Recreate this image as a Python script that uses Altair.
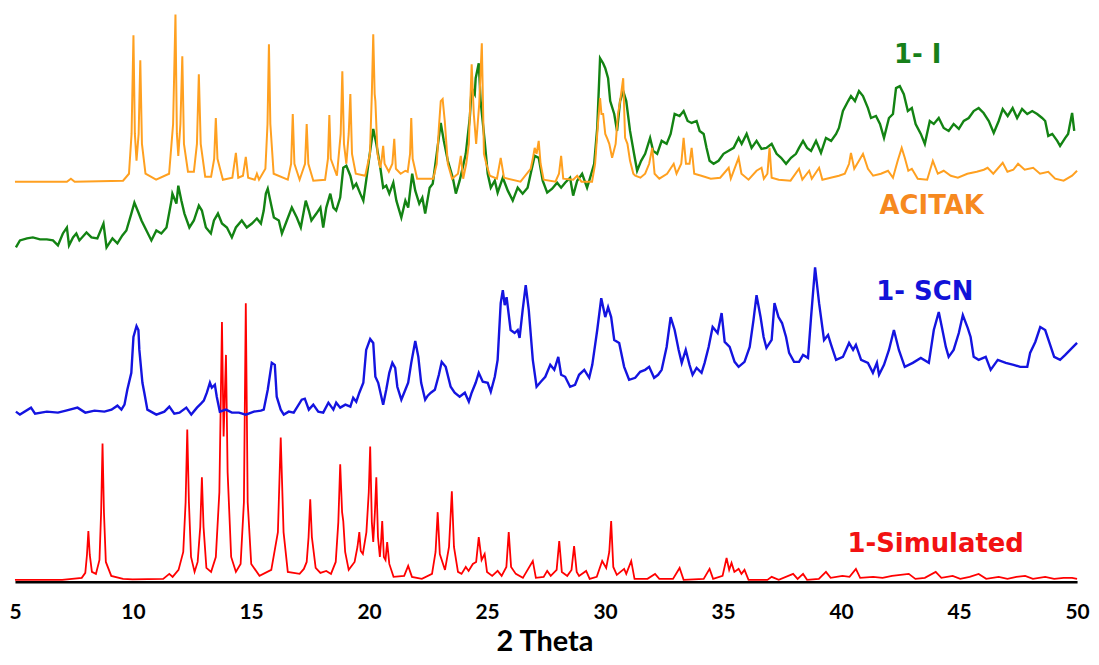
import altair as alt
import pandas as pd

# ---------------- data (2-theta, stacked intensity in a.u.) ----------------
simulated = [
    (5.00, 2), (7.00, 2), (7.83, 4), (7.98, 9), (8.05, 27), (8.11, 51), (8.17, 27), (8.26, 10),
    (8.43, 8), (8.58, 22), (8.65, 70), (8.71, 139), (8.77, 70), (8.85, 20), (9.08, 6), (9.58, 3),
    (9.98, 2.5), (11.28, 3), (11.54, 8), (11.68, 5), (11.93, 12), (12.13, 30), (12.23, 80),
    (12.30, 153), (12.37, 80), (12.46, 25), (12.61, 10), (12.74, 20), (12.85, 55), (12.92, 105),
    (12.99, 55), (13.11, 14), (13.31, 10), (13.51, 25), (13.66, 90), (13.77, 261), (13.84, 146),
    (13.94, 228), (14.01, 110), (14.16, 25), (14.36, 10), (14.56, 18), (14.70, 80), (14.78, 280),
    (14.86, 80), (15.01, 18), (15.36, 6), (15.86, 12), (16.14, 50), (16.26, 145), (16.38, 50),
    (16.56, 10), (17.06, 8), (17.24, 13), (17.36, 20), (17.44, 45), (17.51, 83), (17.58, 45),
    (17.74, 14), (17.94, 9), (18.19, 11), (18.39, 8), (18.59, 20), (18.70, 60), (18.78, 118),
    (18.86, 70), (18.91, 61), (18.99, 30), (19.14, 12), (19.39, 20), (19.51, 35), (19.59, 50),
    (19.65, 31), (19.74, 28), (19.89, 50), (19.99, 90), (20.05, 136), (20.12, 60), (20.18, 40),
    (20.25, 70), (20.31, 105), (20.38, 45), (20.46, 25), (20.51, 40), (20.56, 61), (20.63, 25),
    (20.70, 22), (20.77, 40), (20.86, 18), (21.04, 5), (21.49, 6), (21.66, 16), (21.82, 5),
    (22.24, 3), (22.67, 8), (22.82, 30), (22.91, 70), (23.00, 28), (23.22, 12), (23.39, 35),
    (23.51, 91), (23.60, 35), (23.77, 10), (23.92, 8), (24.10, 15), (24.22, 11), (24.40, 18),
    (24.54, 20), (24.65, 45), (24.77, 22), (24.90, 28), (25.00, 10), (25.22, 6), (25.45, 11),
    (25.62, 6), (25.82, 15), (25.92, 50), (26.02, 15), (26.22, 8), (26.52, 4), (26.94, 21),
    (27.07, 4), (27.40, 5), (27.55, 11), (27.70, 6), (27.95, 12), (28.06, 41), (28.17, 10),
    (28.40, 6), (28.58, 12), (28.69, 36), (28.80, 10), (28.90, 6), (29.20, 11), (29.35, 3),
    (29.65, 5), (29.88, 21), (30.05, 14), (30.18, 30), (30.26, 61), (30.35, 15), (30.50, 7),
    (30.81, 13), (30.90, 8), (31.11, 21), (31.25, 3), (31.80, 3), (32.12, 8), (32.30, 3),
    (32.88, 3), (33.16, 14), (33.33, 2), (34.18, 3), (34.43, 13), (34.58, 3), (34.98, 6),
    (35.15, 24), (35.26, 12), (35.36, 19), (35.48, 10), (35.66, 13), (35.78, 8), (35.91, 12),
    (36.08, 2), (36.88, 2), (37.06, 5), (37.36, 2), (37.97, 8), (38.16, 3), (38.39, 8),
    (38.56, 2), (39.06, 3), (39.36, 10), (39.56, 4), (40.06, 6), (40.36, 5), (40.63, 13),
    (40.81, 4), (41.36, 5), (41.76, 4), (42.16, 6), (42.87, 8), (43.15, 3), (43.55, 4),
    (44.01, 10), (44.25, 4), (44.73, 6), (45.05, 3), (45.45, 5), (45.83, 8), (46.15, 3),
    (46.68, 5), (47.05, 3), (47.43, 5), (47.80, 6), (48.13, 3), (48.65, 5), (49.03, 3),
    (49.43, 4), (49.79, 4), (50.00, 3),
]

scn = [
    (5.04, 171), (5.21, 168), (5.68, 175), (5.85, 169), (6.35, 171), (6.82, 170), (7.16, 172),
    (7.65, 175), (7.98, 170), (8.37, 172), (8.79, 171), (9.09, 173), (9.34, 177), (9.51, 173),
    (9.64, 178), (9.76, 193), (9.93, 210), (10.02, 246), (10.15, 257), (10.23, 253), (10.27, 233),
    (10.40, 200), (10.48, 190), (10.61, 173), (10.99, 168), (11.33, 171), (11.54, 176),
    (11.75, 169), (11.97, 170), (12.26, 175), (12.47, 168), (12.71, 175), (12.88, 179),
    (13.00, 182), (13.13, 190), (13.26, 200), (13.34, 195), (13.47, 198), (13.55, 186),
    (13.68, 171), (13.94, 173), (14.19, 170), (14.49, 170), (14.78, 168), (15.12, 171),
    (15.42, 172), (15.54, 173), (15.71, 193), (15.88, 220), (16.01, 218), (16.09, 186),
    (16.26, 173), (16.39, 168), (16.60, 171), (16.81, 170), (17.15, 183), (17.28, 184),
    (17.45, 173), (17.64, 178), (17.85, 171), (18.06, 170), (18.28, 180), (18.49, 173),
    (18.61, 180), (18.78, 175), (19.00, 178), (19.21, 176), (19.33, 185), (19.46, 181),
    (19.59, 190), (19.76, 200), (19.88, 233), (20.05, 244), (20.18, 240), (20.27, 206),
    (20.39, 200), (20.60, 178), (20.73, 193), (20.86, 210), (20.99, 220), (21.11, 215),
    (21.20, 196), (21.37, 183), (21.54, 193), (21.66, 200), (21.79, 220), (21.96, 242),
    (22.09, 226), (22.21, 200), (22.38, 183), (22.49, 187), (22.62, 190), (22.79, 193),
    (22.96, 208), (23.08, 221), (23.25, 216), (23.46, 196), (23.63, 190), (23.84, 186),
    (24.06, 190), (24.23, 181), (24.35, 190), (24.52, 200), (24.65, 210), (24.82, 201),
    (25.03, 200), (25.16, 191), (25.33, 206), (25.45, 223), (25.58, 280), (25.67, 293),
    (25.75, 278), (25.83, 286), (26.00, 253), (26.17, 250), (26.30, 253), (26.38, 245),
    (26.51, 273), (26.64, 298), (26.77, 273), (26.94, 223), (27.10, 196), (27.28, 201),
    (27.47, 206), (27.68, 218), (27.85, 213), (28.02, 226), (28.14, 208), (28.31, 206),
    (28.52, 196), (28.73, 198), (28.90, 208), (29.12, 213), (29.33, 205), (29.46, 218),
    (29.67, 253), (29.84, 285), (30.01, 266), (30.13, 276), (30.26, 266), (30.39, 243),
    (30.60, 240), (30.81, 216), (31.02, 203), (31.28, 205), (31.49, 211), (31.70, 213),
    (31.87, 216), (32.08, 205), (32.25, 208), (32.40, 213), (32.61, 236), (32.78, 266),
    (32.95, 253), (33.12, 233), (33.25, 220), (33.42, 233), (33.58, 218), (33.71, 208),
    (33.88, 215), (34.09, 210), (34.22, 220), (34.39, 236), (34.56, 256), (34.77, 250),
    (34.94, 270), (35.07, 241), (35.28, 236), (35.49, 221), (35.66, 216), (35.91, 221),
    (36.13, 236), (36.29, 263), (36.42, 288), (36.59, 266), (36.72, 246), (36.84, 235),
    (37.06, 243), (37.18, 280), (37.35, 266), (37.50, 260), (37.67, 246), (37.80, 230),
    (38.01, 221), (38.22, 221), (38.39, 228), (38.60, 225), (38.73, 266), (38.90, 316),
    (39.07, 280), (39.28, 243), (39.45, 248), (39.58, 238), (39.79, 223), (40.08, 226),
    (40.34, 240), (40.51, 233), (40.63, 238), (40.85, 223), (41.14, 220), (41.35, 210),
    (41.52, 220), (41.61, 208), (41.82, 218), (42.03, 233), (42.24, 253), (42.45, 233),
    (42.70, 216), (43.04, 220), (43.38, 225), (43.72, 220), (43.93, 253), (44.14, 271),
    (44.27, 256), (44.44, 236), (44.56, 226), (44.77, 233), (44.99, 250), (45.16, 268),
    (45.37, 255), (45.49, 246), (45.62, 226), (45.83, 223), (46.13, 226), (46.34, 213),
    (46.64, 223), (46.98, 220), (47.31, 218), (47.59, 216), (47.89, 216), (48.01, 230),
    (48.23, 241), (48.44, 256), (48.65, 253), (48.86, 238), (49.03, 226), (49.28, 223),
    (49.50, 228), (49.79, 235), (50.00, 240),
]

iodide = [
    (5.04, 336), (5.21, 343), (5.51, 345), (5.76, 346), (6.06, 344), (6.35, 344), (6.61, 343),
    (6.82, 338), (7.03, 350), (7.20, 356), (7.29, 338), (7.46, 346), (7.60, 350), (7.73, 343),
    (8.03, 351), (8.24, 346), (8.49, 345), (8.75, 360), (8.88, 336), (9.13, 345), (9.34, 340),
    (9.55, 348), (9.72, 353), (9.93, 370), (10.06, 381), (10.23, 371), (10.36, 363),
    (10.57, 353), (10.78, 343), (10.99, 353), (11.20, 350), (11.42, 356), (11.63, 383),
    (11.67, 390), (11.84, 380), (11.92, 398), (12.05, 383), (12.18, 370), (12.39, 356),
    (12.58, 363), (12.79, 378), (12.92, 373), (13.09, 356), (13.30, 350), (13.43, 363),
    (13.60, 370), (13.77, 360), (13.98, 356), (14.19, 346), (14.36, 356), (14.61, 363),
    (14.82, 356), (15.04, 360), (15.25, 365), (15.42, 360), (15.54, 373), (15.63, 390),
    (15.71, 395), (15.88, 376), (15.97, 366), (16.18, 363), (16.31, 350), (16.52, 363),
    (16.73, 376), (16.94, 366), (17.11, 356), (17.32, 383), (17.45, 373), (17.56, 363),
    (17.77, 370), (17.94, 376), (18.06, 356), (18.19, 376), (18.36, 390), (18.49, 376),
    (18.61, 373), (18.78, 386), (18.91, 416), (19.04, 418), (19.21, 408), (19.33, 396),
    (19.46, 400), (19.63, 390), (19.76, 383), (19.88, 403), (20.05, 433), (20.18, 455),
    (20.31, 440), (20.48, 416), (20.60, 396), (20.73, 398), (20.86, 390), (21.03, 401),
    (21.16, 383), (21.37, 366), (21.54, 383), (21.66, 376), (21.83, 410), (21.96, 393),
    (22.13, 380), (22.26, 386), (22.38, 370), (22.57, 396), (22.70, 400), (22.83, 423),
    (23.04, 461), (23.17, 443), (23.34, 423), (23.55, 406), (23.68, 390), (23.84, 403),
    (23.97, 416), (24.10, 430), (24.27, 466), (24.35, 496), (24.48, 490), (24.52, 506),
    (24.65, 521), (24.73, 483), (24.90, 443), (25.03, 410), (25.16, 396), (25.33, 403),
    (25.45, 391), (25.67, 406), (25.88, 393), (26.09, 383), (26.30, 396), (26.51, 390),
    (26.72, 396), (26.85, 410), (27.02, 428), (27.19, 426), (27.36, 403), (27.55, 391),
    (27.76, 395), (27.97, 401), (28.14, 396), (28.31, 401), (28.52, 406), (28.65, 388),
    (28.82, 403), (29.03, 410), (29.24, 396), (29.37, 406), (29.54, 420), (29.67, 456),
    (29.79, 526), (29.92, 521), (30.01, 516), (30.13, 506), (30.22, 483), (30.39, 470),
    (30.51, 453), (30.64, 483), (30.77, 493), (30.90, 483), (31.06, 453), (31.23, 430),
    (31.36, 413), (31.53, 423), (31.70, 430), (31.91, 446), (32.04, 433), (32.21, 430),
    (32.40, 443), (32.61, 440), (32.78, 450), (32.95, 470), (33.16, 468), (33.33, 473),
    (33.50, 463), (33.67, 461), (33.88, 463), (34.01, 453), (34.18, 450), (34.30, 436),
    (34.43, 423), (34.60, 420), (34.81, 423), (35.02, 430), (35.24, 433), (35.45, 436),
    (35.66, 446), (35.79, 440), (36.00, 450), (36.21, 436), (36.42, 443), (36.63, 435),
    (36.84, 436), (37.06, 440), (37.27, 430), (37.46, 426), (37.67, 420), (37.88, 426),
    (38.09, 430), (38.22, 436), (38.39, 443), (38.56, 436), (38.73, 433), (38.94, 443),
    (39.15, 431), (39.36, 446), (39.58, 443), (39.79, 450), (39.91, 456), (40.08, 473),
    (40.30, 483), (40.42, 488), (40.59, 483), (40.76, 493), (40.93, 488), (41.14, 476),
    (41.27, 466), (41.48, 468), (41.65, 460), (41.82, 446), (42.03, 466), (42.20, 470),
    (42.33, 496), (42.49, 498), (42.66, 490), (42.83, 473), (43.00, 476), (43.16, 460),
    (43.38, 450), (43.55, 440), (43.76, 463), (43.93, 460), (44.14, 466), (44.35, 456),
    (44.56, 453), (44.77, 460), (44.99, 455), (45.20, 463), (45.41, 466), (45.62, 473),
    (45.83, 476), (46.04, 471), (46.26, 463), (46.47, 451), (46.68, 463), (46.85, 475),
    (47.06, 468), (47.27, 476), (47.46, 466), (47.67, 475), (47.89, 470), (48.10, 473),
    (48.31, 470), (48.52, 466), (48.65, 463), (48.78, 448), (48.95, 450), (49.16, 443),
    (49.28, 438), (49.50, 446), (49.62, 450), (49.79, 471), (49.88, 453),
]

acitak = [
    (5.00, 402), (7.20, 402), (7.37, 405), (7.53, 402), (9.58, 403), (9.83, 410), (9.94, 450),
    (10.02, 549), (10.08, 450), (10.15, 423), (10.24, 450), (10.31, 524), (10.38, 440),
    (10.53, 410), (10.98, 404), (11.53, 410), (11.70, 460), (11.80, 570), (11.86, 450),
    (11.92, 428), (12.01, 460), (12.09, 528), (12.16, 440), (12.33, 412), (12.58, 412),
    (12.71, 440), (12.79, 510), (12.87, 440), (13.06, 407), (13.31, 407), (13.44, 425),
    (13.51, 466), (13.58, 425), (13.81, 404), (14.21, 406), (14.36, 431), (14.46, 406),
    (14.66, 408), (14.78, 427), (14.88, 406), (15.16, 404), (15.25, 410), (15.34, 404),
    (15.61, 415), (15.70, 460), (15.76, 540), (15.82, 460), (15.96, 410), (16.56, 404),
    (16.70, 420), (16.77, 470), (16.84, 420), (17.06, 404), (17.29, 420), (17.36, 460),
    (17.43, 420), (17.64, 403), (18.14, 404), (18.26, 425), (18.32, 469), (18.38, 425),
    (18.64, 408), (18.80, 450), (18.87, 513), (18.94, 440), (19.04, 420), (19.14, 450),
    (19.21, 490), (19.28, 430), (19.44, 410), (19.84, 408), (20.04, 430), (20.12, 490),
    (20.18, 550), (20.24, 490), (20.27, 483), (20.36, 430), (20.48, 416), (20.54, 425),
    (20.60, 438), (20.66, 420), (20.84, 412), (20.99, 420), (21.07, 445), (21.14, 415),
    (21.34, 410), (21.54, 413), (21.64, 412), (21.74, 430), (21.79, 466), (21.85, 425),
    (22.04, 405), (22.72, 405), (22.87, 420), (22.96, 456), (23.04, 483), (23.12, 485),
    (23.21, 463), (23.34, 420), (23.52, 405), (23.77, 410), (23.89, 428), (23.99, 405),
    (24.12, 420), (24.23, 440), (24.35, 520), (24.44, 470), (24.54, 440), (24.67, 480),
    (24.78, 541), (24.87, 430), (24.97, 420), (25.12, 408), (25.42, 405), (25.58, 426),
    (25.72, 406), (26.42, 402), (26.85, 415), (26.94, 425), (27.02, 436), (27.10, 430),
    (27.19, 443), (27.27, 420), (27.40, 404), (27.90, 402), (28.05, 410), (28.14, 428),
    (28.23, 405), (28.65, 404), (28.82, 408), (29.00, 402), (29.45, 402), (29.58, 420),
    (29.70, 460), (29.79, 486), (29.85, 470), (29.92, 470), (30.01, 450), (30.10, 445),
    (30.18, 440), (30.30, 426), (30.45, 440), (30.55, 470), (30.64, 483), (30.77, 506),
    (30.85, 446), (30.95, 440), (31.06, 423), (31.20, 410), (31.28, 408), (31.50, 406),
    (31.70, 410), (31.87, 420), (32.00, 436), (32.10, 410), (32.30, 405), (32.63, 410),
    (32.91, 420), (33.03, 410), (33.23, 420), (33.33, 446), (33.43, 420), (33.58, 420),
    (33.67, 436), (33.78, 410), (34.08, 408), (34.48, 405), (34.88, 406), (35.24, 416),
    (35.33, 405), (35.66, 426), (35.78, 410), (36.08, 404), (36.42, 413), (36.63, 416),
    (36.73, 405), (36.88, 410), (36.97, 436), (37.06, 406), (37.36, 404), (37.86, 403),
    (38.22, 415), (38.36, 404), (38.65, 413), (38.76, 405), (39.07, 416), (39.21, 404),
    (39.56, 406), (39.91, 408), (40.16, 410), (40.34, 420), (40.42, 431), (40.56, 415),
    (40.76, 423), (40.93, 430), (41.14, 415), (41.36, 408), (41.69, 410), (41.99, 413),
    (42.20, 406), (42.40, 423), (42.57, 436), (42.70, 426), (42.85, 413), (43.00, 415),
    (43.25, 405), (43.65, 404), (43.89, 423), (44.10, 410), (44.35, 413), (44.65, 408),
    (44.95, 406), (45.35, 410), (45.75, 412), (46.05, 414), (46.21, 416), (46.45, 410),
    (46.85, 421), (47.05, 412), (47.30, 414), (47.50, 420), (47.78, 414), (48.14, 416),
    (48.43, 410), (48.78, 412), (49.07, 405), (49.43, 403), (49.79, 408), (50.00, 413),
]

x_ticks = [5, 10, 15, 20, 25, 30, 35, 40, 45, 50]

label_text = ["1- I", "ACITAK", "1- SCN", "1-Simulated"]
label_x = [43.25, 43.84, 43.55, 44.01]
label_y = [521, 370, 283, 30]
label_color = ["#17801A", "#F6891F", "#1212D8", "#F21212"]


def frame(pairs):
    return pd.DataFrame(pairs, columns=["t", "i"])


x_enc = alt.X(
    "t:Q",
    scale=alt.Scale(domain=[5, 50], nice=False, zero=False),
    axis=alt.Axis(
        values=x_ticks,
        format="d",
        grid=False,
        ticks=False,
        tickSize=0,
        domainColor="black",
        domainWidth=2.5,
        labelFont="Lato",
        labelFontWeight="bold",
        labelFontSize=21,
        labelColor="black",
        labelPadding=20,
        labelFlush=False,
        labelOverlap=False,
        title="2 Theta",
        titleFont="Lato",
        titleFontWeight="bold",
        titleFontSize=29,
        titleColor="black",
        titleX=532,
        titleY=69,
        titleAlign="center",
        titleBaseline="alphabetic",
    ),
)
y_enc = alt.Y("i:Q", scale=alt.Scale(domain=[0, 575], nice=False, zero=False), axis=None)


def trace(pairs, color, width):
    return alt.Chart(frame(pairs)).mark_line(color=color, strokeWidth=width).encode(
        x=x_enc, y=y_enc, order="t:Q"
    )


labels_df = pd.DataFrame(
    {"text": label_text, "t": label_x, "i": label_y, "c": label_color}
)
labels = alt.Chart(labels_df).mark_text(
    font="DejaVu Sans", fontWeight="bold", fontSize=26, align="center", baseline="alphabetic"
).encode(
    x=alt.X("t:Q", scale=alt.Scale(domain=[5, 50], nice=False, zero=False)),
    y=alt.Y("i:Q", scale=alt.Scale(domain=[0, 575], nice=False, zero=False)),
    text="text:N",
    color=alt.Color("c:N", scale=None),
)

chart = alt.layer(
    trace(simulated, "#FF0000", 1.8),
    trace(scn, "#1414E0", 2.4),
    trace(iodide, "#138313", 2.4),
    trace(acitak, "#FFA020", 2.0),
    labels,
).properties(
    width=1067,
    height=575,
    autosize=alt.AutoSizeParams(type="none"),
    padding={"left": 7, "top": 0, "right": 14, "bottom": 74},
    background="white",
).configure_view(stroke=None)

chart.save("out.html", embed_options={"renderer": "svg", "actions": False})
